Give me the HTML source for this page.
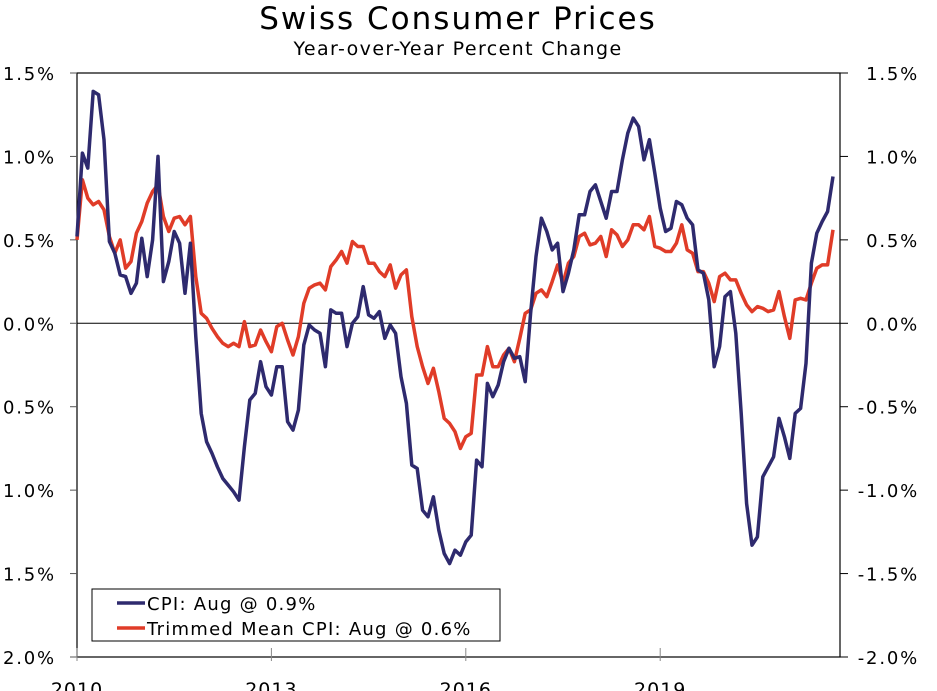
<!DOCTYPE html>
<html><head><meta charset="utf-8"><style>
html,body{margin:0;padding:0;background:#fff;width:937px;height:691px;overflow:hidden}
svg{display:block;font-family:"DejaVu Sans","Liberation Sans",sans-serif}
</style></head><body>
<svg id="chart" width="937" height="691">
<text x="458" y="29" font-size="31" letter-spacing="2" text-anchor="middle" fill="#000">Swiss Consumer Prices</text>
<text x="458" y="55" font-size="19" letter-spacing="1.4" text-anchor="middle" fill="#000">Year-over-Year Percent Change</text>
<g id="axes"></g>
<g id="series"></g>
<g>
<rect x="92" y="589" width="408" height="52" fill="#fff" stroke="#000" stroke-width="1"/>
<line x1="117" y1="603" x2="145" y2="603" stroke="#2e2a6e" stroke-width="3.5"/>
<text x="147" y="610" font-size="18" letter-spacing="1.25">CPI: Aug @ 0.9%</text>
<line x1="117" y1="628" x2="145" y2="628" stroke="#e03c28" stroke-width="3.5"/>
<text x="147" y="635" font-size="18" letter-spacing="1.25">Trimmed Mean CPI: Aug @ 0.6%</text>
</g>
</svg>
<script>
const yTicks=[1.5,1.0,0.5,0.0,-0.5,-1.0,-1.5,-2.0];
const xTickYears=[2010,2013,2016,2019];
const cpi=[0.52,1.02,0.93,1.39,1.37,1.10,0.49,0.42,0.29,0.28,0.18,0.24,0.51,0.28,0.50,1.00,0.25,0.37,0.55,0.48,0.18,0.48,-0.08,-0.54,-0.71,
-0.78,-0.86,-0.93,-0.97,-1.01,-1.06,
-0.74,-0.46,-0.42,-0.23,-0.38,-0.43,-0.26,-0.26,-0.59,-0.64,-0.52,-0.13,-0.01,-0.04,-0.06,-0.26,0.08,0.06,0.06,-0.14,0.00,0.04,0.22,0.05,0.03,0.07,-0.09,-0.01,-0.06,-0.32,-0.48,-0.85,-0.87,-1.12,-1.16,-1.04,-1.24,
-1.38,-1.44,-1.36,-1.39,-1.31,-1.27,-0.82,-0.86,-0.36,-0.44,-0.37,-0.23,-0.15,-0.21,-0.20,-0.35,0.06,0.40,0.63,0.55,0.44,0.48,0.19,0.30,0.44,0.65,0.65,0.79,0.83,0.73,0.63,0.79,0.79,0.98,1.14,1.23,1.18,0.98,1.10,0.90,0.69,0.55,0.57,0.73,0.71,0.63,0.59,0.32,0.30,0.14,-0.26,-0.14,0.16,0.19,-0.06,-0.54,-1.08,-1.33,-1.28,-0.92,-0.86,-0.80,-0.57,-0.68,-0.81,-0.54,-0.51,-0.24,0.36,0.54,0.61,0.67,0.88];
const trimmed=[0.50,0.86,0.75,0.71,0.73,0.68,0.52,0.42,0.50,0.33,0.37,0.54,0.61,0.72,0.79,0.83,0.64,0.55,0.63,0.64,0.59,0.64,0.28,0.06,0.03,-0.03,-0.08,-0.12,-0.14,-0.12,-0.14,0.01,-0.14,-0.13,-0.04,-0.11,-0.17,-0.02,0.00,-0.10,-0.19,-0.08,0.12,0.21,0.23,0.24,0.20,0.34,0.38,0.43,0.36,0.49,0.46,0.46,0.36,0.36,0.31,0.28,0.35,0.21,0.29,0.32,0.04,-0.14,-0.26,-0.36,-0.27,-0.41,
-0.57,-0.60,-0.65,-0.75,-0.68,-0.66,-0.31,-0.31,-0.14,-0.26,-0.26,-0.19,-0.15,-0.23,-0.09,0.06,0.08,0.18,0.20,0.16,0.25,0.35,0.24,0.36,0.40,0.52,0.54,0.47,0.48,0.52,0.40,0.56,0.53,0.46,0.50,0.59,0.59,0.56,0.64,0.46,0.45,0.43,0.43,0.48,0.59,0.44,0.42,0.31,0.31,0.24,0.13,0.28,0.30,0.26,0.26,0.18,0.11,0.07,0.10,0.09,0.07,0.08,0.19,0.04,-0.09,0.14,0.15,0.14,0.24,0.33,0.35,0.35,0.56];
const NS='http://www.w3.org/2000/svg';
const L=77,R=840,T=73,B=657,MONTH=5.4;
function x(m){return L+m*MONTH;}
function y(v){return T+(1.5-v)*(B-T)/3.5;}
function mk(tag,attrs,parent){const e=document.createElementNS(NS,tag);for(const k in attrs)e.setAttribute(k,attrs[k]);parent.appendChild(e);return e;}
const axes=document.getElementById('axes');
const frame=mk('rect',{x:L,y:T,width:R-L,height:B-T,fill:'none',stroke:'#000','stroke-width':1.2},axes);


yTicks.forEach(v=>{
  const yy=y(v);
  const t1=mk('line',{x1:L-7,y1:yy,x2:L,y2:yy,stroke:'#555','stroke-width':1},axes);
  
  
  const t2=mk('line',{x1:R,y1:yy,x2:R+8,y2:yy,stroke:'#000','stroke-width':1},axes);
  
  
  const lt=mk('text',{x:3,y:yy+7,'font-size':18,'letter-spacing':1.8},axes);
  lt.textContent=Math.abs(v).toFixed(1)+'%';
  
  
  const rt=mk('text',{x:919,y:yy+7,'font-size':18,'letter-spacing':1.8,'text-anchor':'end'},axes);
  rt.textContent=v.toFixed(1)+'%';
  
  
});
const zl=mk('line',{x1:L,y1:y(0),x2:R,y2:y(0),stroke:'#000','stroke-width':1},axes);


xTickYears.forEach(yr=>{
  const xx=x((yr-2010)*12);
  const t=mk('line',{x1:xx,y1:B-9,x2:xx,y2:B+4,stroke:'#888','stroke-width':1},axes);
  
  
  const lb=mk('text',{x:xx,y:696,'font-size':19,'letter-spacing':1,'text-anchor':'middle'},axes);
  lb.textContent=String(yr);
  
  
});
const series=document.getElementById('series');
function draw(arr,color,name){
  const d=arr.map((v,i)=>(i?'L':'M')+x(i).toFixed(1)+','+y(v).toFixed(1)).join(' ');
  const p=mk('path',{d:d,fill:'none',stroke:color,'stroke-width':3.5,'stroke-linejoin':'round'},series);
  
  
}
draw(trimmed,'#e03c28','trimmed-mean-line');
draw(cpi,'#2e2a6e','cpi-line');
</script>
</body></html>
